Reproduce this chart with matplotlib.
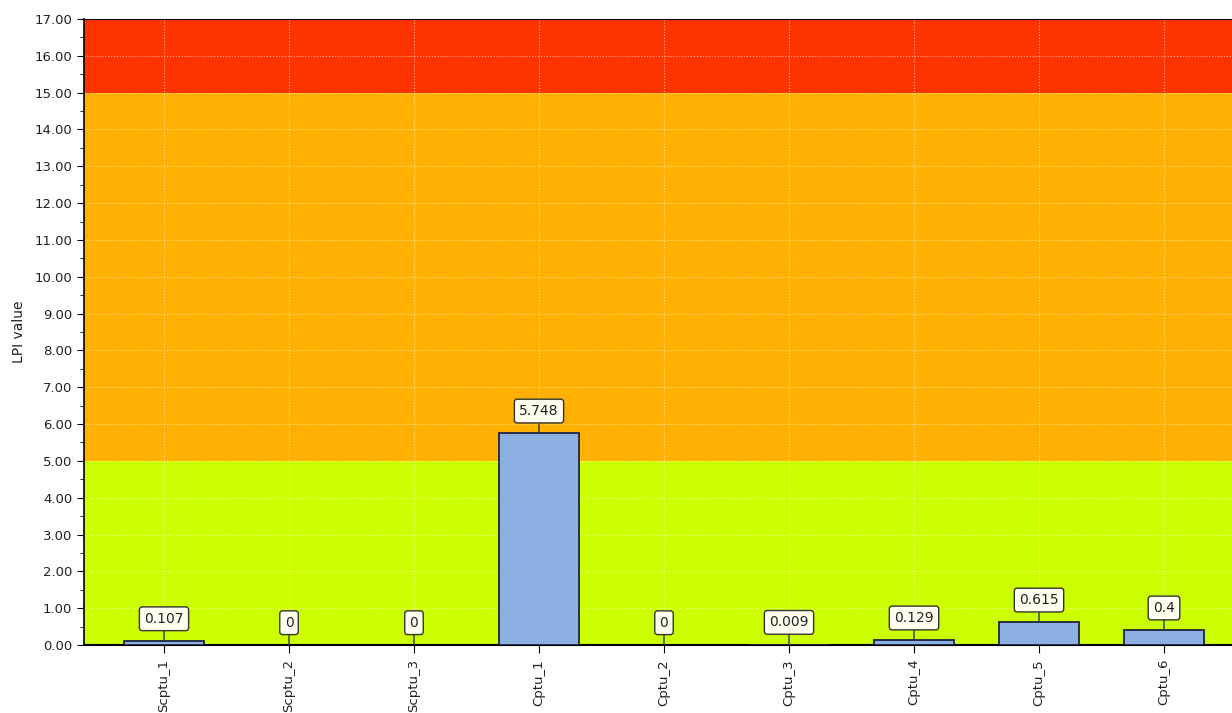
#lpi_bars.py

#LPI value per CPTu sounding, with risk bands behind the bars

import matplotlib.pyplot as plt;
import numpy as np;
from matplotlib.ticker import MultipleLocator, FormatStrFormatter;

names = ['Scptu_1', 'Scptu_2', 'Scptu_3', 'Cptu_1', 'Cptu_2', 'Cptu_3', 'Cptu_4', 'Cptu_5', 'Cptu_6'];
lpi = [0.107, 0, 0, 5.748, 0, 0.009, 0.129, 0.615, 0.4];
labels = ['0.107', '0', '0', '5.748', '0', '0.009', '0.129', '0.615', '0.4'];

#risk bands (low, high, colour)
band_lo = [0, 5, 15];
band_hi = [5, 15, 17];
band_col = ['#ccff00', '#ffb000', '#ff3300'];

fig = plt.figure(figsize=(12.32, 7.13), dpi=100);
ax = fig.add_axes([84/1232, 1-645/713, 1-84/1232, (645-19)/713]);

x = np.arange(len(names));
for lo, hi, c in zip(band_lo, band_hi, band_col):
    ax.axhspan(lo, hi, color=c, zorder=0, lw=0);

ax.grid(True, color='#ffffe8', ls=':', lw=0.8, alpha=0.6, zorder=1);
heights = [v if v > 0 else np.nan for v in lpi]; #zero bars are not drawn
bars = ax.bar(x, heights, width=0.64, color='#8db0e3', edgecolor='#1c2540', lw=1.3, zorder=3);

#value boxes above each bar
for xi, v, t in zip(x, lpi, labels):
    ax.annotate(t, (xi, v), xytext=(0, 11), textcoords='offset points',
                ha='center', va='bottom', fontsize=10, color='#222222', zorder=5,
                bbox=dict(boxstyle='round,pad=0.35,rounding_size=0.2', fc='#fffff0', ec='#333333', lw=1),
                arrowprops=dict(arrowstyle='-', color='#333333', lw=1, shrinkA=0, shrinkB=0));

ax.set_xlim(-0.64, 8.544);
ax.set_ylim(0, 17);
ax.set_xticks(x);
ax.set_xticklabels(names, rotation=90, fontsize=9.5, color='#222222');
ax.yaxis.set_major_locator(MultipleLocator(1));
ax.yaxis.set_minor_locator(MultipleLocator(0.5));
ax.yaxis.set_major_formatter(FormatStrFormatter('%.2f'));
ax.tick_params(axis='y', which='major', length=5, labelsize=9.5, labelcolor='#222222');
ax.tick_params(axis='y', which='minor', length=3);
ax.tick_params(axis='x', length=6, pad=4);
ax.spines['right'].set_visible(False);
ax.spines['left'].set_linewidth(1.2);
ax.spines['bottom'].set_linewidth(1.5);
ax.set_ylabel('LPI value', fontsize=10, color='#222222', labelpad=6);

fig.savefig('out.png', dpi=100);
